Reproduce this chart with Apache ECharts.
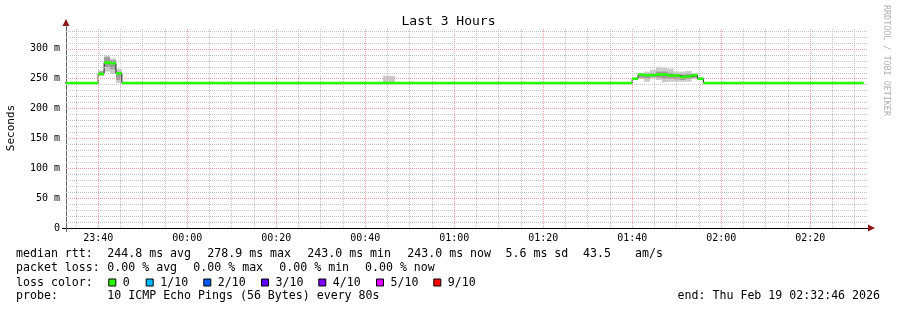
<!DOCTYPE html>
<html><head><meta charset="utf-8">
<script src="https://cdn.jsdelivr.net/npm/echarts@6/dist/echarts.min.js"></script>
<style>html,body{margin:0;padding:0;background:#fff}#c{width:897px;height:310px}</style>
</head><body><div id="c"></div>
<script>
// ---------------- data ----------------
const titleText = 'Last 3 Hours';
const yAxisName = 'Seconds';
const axisStart = '23:32:46';
const axisEnd = '02:32:46';
const xTickLabels = ['23:40','00:00','00:20','00:40','01:00','01:20','01:40','02:00','02:20'];
const yTickValues = [0, 50, 100, 150, 200, 250, 300];
const stepSeconds = 80;

// median rtt (ms) by 80 s step: each value holds from its start time to the next one
const medStart = ['23:32:00','23:40:00','23:41:20','23:42:40','23:44:00','23:45:20',
  '01:40:00','01:41:20','01:42:40','01:44:00','01:45:20','01:46:40','01:48:00',
  '01:49:20','01:50:40','01:52:00','01:53:20','01:54:40','01:56:00'];
const medEnd = '02:32:00';
const medValues = [243, 258, 277, 276, 259, 243,
  250, 257, 256, 256, 257, 257, 255.5,
  255.5, 253, 254, 256, 250, 243];

// smoke (ping spread, ms) per 80 s step
const smokeStart = ['23:40:00','23:41:20','23:42:40','23:44:00','00:44:00','00:45:20',
  '01:40:00','01:41:20','01:42:40','01:44:00','01:45:20','01:46:40','01:48:00',
  '01:49:20','01:50:40','01:52:00','01:53:20','01:54:40'];
const smokeLow  = [255, 262, 258, 243, 243, 243, 248, 250, 245, 251, 248, 244, 245, 245, 245, 245, 250, 248];
const smokeHigh = [264, 289, 284, 267, 255, 255, 252, 259, 262, 265, 269, 268, 267, 262, 262, 263, 259, 253];
const smokeInLow  = [256, 270, 266, 248, null, null, null, 252, 251, 253, 252, 250, 250, 249, 248, 250, 252, null];
const smokeInHigh = [262, 286, 281, 262, null, null, null, 257, 258, 259, 262, 262, 260, 258, 257, 258, 257, null];

// legend text pieces
const rttItems  = ['median rtt:', '244.8 ms avg', '278.9 ms max', '243.0 ms min', '243.0 ms now', '5.6 ms sd', '43.5', 'am/s'];
const lossItems = ['packet loss:', '0.00 % avg', '0.00 % max', '0.00 % min', '0.00 % now'];
const lossTitle = 'loss color:';
const probeItems = ['probe:', '10 ICMP Echo Pings (56 Bytes) every 80s'];
const endText = 'end: Thu Feb 19 02:32:46 2026';
const lossLabels = ['0', '1/10', '2/10', '3/10', '4/10', '5/10', '9/10'];
const lossColors = ['#26ff00', '#00b8ff', '#0059ff', '#5e00ff', '#7e00ff', '#dd00ff', '#ff0000'];
const watermark = 'RRDTOOL / TOBI OETIKER';

// ---------------- helpers ----------------
function t2m(s) { // minutes since 23:00 (day 1)
  const p = s.split(':').map(Number);
  let h = p[0]; if (h < 12) h += 24;
  return (h - 23) * 60 + p[1] + (p[2] || 0) / 60;
}
function m2label(m) {
  let tot = Math.round(m) + 23 * 60;
  const h = Math.floor(tot / 60) % 24, mi = tot % 60;
  return String(h).padStart(2, '0') + ':' + String(mi).padStart(2, '0');
}
const stepMin = stepSeconds / 60;
const xMin = t2m(axisStart), xMax = t2m(axisEnd);
const MONO = 'DejaVu Sans Mono';

const medSegs = medStart.map((s, i) => [t2m(s), i + 1 < medStart.length ? t2m(medStart[i + 1]) : t2m(medEnd), medValues[i]]);
const medLine = medSegs.map(d => [d[0], d[2]]).concat([[t2m(medEnd), medValues[medValues.length - 1]]]);
const smokeOuter = smokeStart.map((s, i) => [t2m(s), t2m(s) + stepMin, smokeLow[i], smokeHigh[i]]);
const smokeInner = smokeStart.map((s, i) => smokeInLow[i] == null ? null : [t2m(s), t2m(s) + stepMin, smokeInLow[i], smokeInHigh[i]]).filter(Boolean);

// grid lines
const GRID = '#c4c4c4', MGRID = '#f0a0a0';
const vLines = [];
for (let m = Math.ceil(xMin / 5) * 5; m < xMax; m += 5) {
  vLines.push({ xAxis: m, lineStyle: { color: (m % 20 === 0) ? MGRID : GRID, type: [1, 1], width: 1 } });
}
const hLines = [];
for (let v = 10; v <= 330; v += 10) {
  hLines.push({ yAxis: v, lineStyle: { color: (v % 50 === 0) ? MGRID : GRID, type: [1, 1], width: 1 } });
}

function rectItem(fill) {
  return function (params, api) {
    const a = api.coord([api.value(0), api.value(3)]);
    const b = api.coord([api.value(1), api.value(2)]);
    const cs = params.coordSys;
    const r = echarts.graphic.clipRectByRect(
      { x: a[0], y: a[1], width: b[0] - a[0], height: b[1] - a[1] },
      { x: cs.x, y: cs.y, width: cs.width, height: cs.height });
    return r && { type: 'rect', shape: r, style: { fill: fill } };
  };
}
function barItem(fill, th) {
  return function (params, api) {
    const a = api.coord([api.value(0), api.value(2)]);
    const b = api.coord([api.value(1), api.value(2)]);
    const cs = params.coordSys;
    const r = echarts.graphic.clipRectByRect(
      { x: a[0], y: a[1] - th / 2, width: b[0] - a[0], height: th },
      { x: cs.x, y: cs.y - 5, width: cs.width, height: cs.height + 10 });
    return r && { type: 'rect', shape: r, style: { fill: fill } };
  };
}

// legend layout
const rowY = [254, 268, 282.5, 296];
const rttX = [16, 107.3, 207.3, 307.3, 407.3, 505.5, 583, 635];
const lossX = [16, 107.3, 193.3, 279.3, 365];
const probeX = [16, 107.3];
const boxX = [108.3, 145.7, 203.3, 261, 318.3, 376, 433.3];
const FONT = '11.6px "' + MONO + '"';
const gfx = [];
function txt(t, x, y, align) {
  gfx.push({ type: 'text', x: x, y: y, silent: true,
    style: { text: t, font: FONT, fill: '#000', textAlign: align || 'left', textVerticalAlign: 'middle' } });
}
rttItems.forEach((t, i) => txt(t, rttX[i], rowY[0]));
lossItems.forEach((t, i) => txt(t, lossX[i], rowY[1]));
txt(lossTitle, 16, rowY[2]);
probeItems.forEach((t, i) => txt(t, probeX[i], rowY[3]));
lossLabels.forEach((t, i) => {
  gfx.push({ type: 'rect', shape: { x: boxX[i] + 0.5, y: rowY[2] - 3.5, width: 7, height: 7 }, silent: true,
    style: { fill: lossColors[i], stroke: '#000', lineWidth: 1 } });
  txt(t, boxX[i] + 14.5, rowY[2]);
});
txt(endText, 880, rowY[3], 'right');
gfx.push({ type: 'text', x: 886, y: 5, rotation: -Math.PI / 2, silent: true,
  style: { text: watermark, font: '8.4px "' + MONO + '"', fill: '#b0b0b0', textAlign: 'left', textVerticalAlign: 'middle' } });
// axis arrows (rrdtool style, dark red)
gfx.push({ type: 'polygon', silent: true, shape: { points: [[66, 19], [62.5, 26], [69.5, 26]] }, style: { fill: '#8b1a1a' } });
gfx.push({ type: 'polygon', silent: true, shape: { points: [[875, 228], [868, 224.5], [868, 231.5]] }, style: { fill: '#8b1a1a' } });
gfx.push({ type: 'line', silent: true, shape: { x1: 62, y1: 228.5, x2: 868, y2: 228.5 }, style: { stroke: '#000', lineWidth: 1 } });
gfx.push({ type: 'line', silent: true, shape: { x1: 66.5, y1: 232, x2: 66.5, y2: 25 }, style: { stroke: '#606060', lineWidth: 1 } });

const chart = echarts.init(document.getElementById('c'), null, { renderer: 'canvas' });
chart.setOption({
  animation: false,
  backgroundColor: '#fff',
  title: { text: titleText, left: 'center', top: 10, textStyle: { fontFamily: MONO, fontSize: 13, fontWeight: 'normal', color: '#000' } },
  grid: { left: 66, right: 30, top: 28, bottom: 82, containLabel: false, outerBoundsMode: 'none' },
  xAxis: {
    type: 'value', min: xMin, max: xMax,
    axisLine: { show: false },
    axisTick: { show: false },
    splitLine: { show: false },
    axisLabel: { customValues: xTickLabels.map(t2m), formatter: m2label, fontFamily: MONO, fontSize: 10, color: '#000', margin: 5 }
  },
  yAxis: {
    type: 'value', min: 0, max: 335, interval: 50,
    name: yAxisName, nameLocation: 'middle', nameGap: 49, nameRotate: 90,
    nameTextStyle: { fontFamily: MONO, fontSize: 11, color: '#000' },
    axisLine: { show: false },
    axisTick: { show: false },
    splitLine: { show: false },
    axisLabel: { customValues: yTickValues, formatter: v => v === 0 ? '0' : v + ' m', fontFamily: MONO, fontSize: 10, color: '#000', margin: 6 }
  },
  graphic: gfx,
  series: [
    { type: 'line', data: [], z: 1, silent: true,
      markLine: { silent: true, symbol: 'none', label: { show: false }, animation: false, data: vLines.concat(hLines) } },
    { type: 'custom', z: 2, silent: true, renderItem: rectItem('#cbcbcb'), data: smokeOuter, encode: { x: [0, 1], y: [2, 3] } },
    { type: 'custom', z: 3, silent: true, renderItem: rectItem('#9a9a9a'), data: smokeInner, encode: { x: [0, 1], y: [2, 3] } },
    { type: 'line', z: 4, silent: true, step: 'end', data: medLine, symbol: 'none', lineStyle: { color: '#202020', width: 1 } },
    { type: 'custom', z: 5, silent: true, renderItem: barItem(lossColors[0], 2.6), data: medSegs, encode: { x: [0, 1], y: 2 } }
  ]
});
</script>
</body></html>
